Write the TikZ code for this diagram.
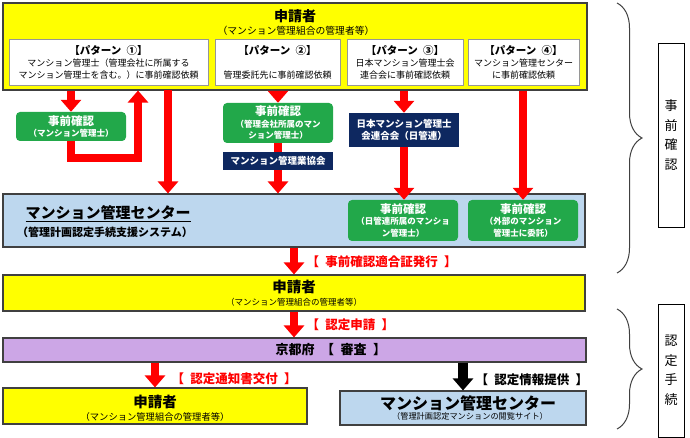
\documentclass[tikz,border=0pt]{standalone}
\usepackage{fontspec}
\setmainfont{Noto Sans CJK JP}
\usetikzlibrary{arrows.meta, decorations.pathreplacing}
\definecolor{cyellow}{HTML}{FFFF00}
\definecolor{cblue}{HTML}{BDD7EE}
\definecolor{cgreen}{HTML}{22A84A}
\definecolor{cnavy}{HTML}{0E2860}
\definecolor{cpurple}{HTML}{CCA6E6}
\definecolor{cred}{HTML}{FF0000}
\definecolor{cgrey}{HTML}{404040}
\newcommand{\halfsp}{\hspace{0.5em}}
\tikzset{
  panel/.style={draw=cgrey, fill=#1, line width=1.1pt, inner sep=0pt},
  pbox/.style={draw=cgrey!55, fill=white, line width=0.8pt, inner sep=0pt, minimum height=46pt, align=center, font=\fontsize{9}{12}\selectfont},
  prebox/.style={fill=cgreen, rounded corners=4pt, text=white, align=center, inner sep=0pt, minimum width=110pt, font=\fontsize{8.5}{11.5}\selectfont\bfseries},
  assoc/.style={fill=cnavy, text=white, align=center, inner sep=0pt, minimum width=110pt, font=\fontsize{9.5}{12}\selectfont\bfseries},
  arrow/.style={-{Triangle[width=20pt, length=12pt]}, draw=cred, line width=8pt},
  flowlabel/.style={anchor=west, text=cred, font=\fontsize{12.5}{14}\selectfont\bfseries},
  sidebox/.style={draw=black, line width=0.8pt, minimum width=26pt, inner sep=0pt, align=center, font=\fontsize{13}{19.5}\selectfont},
  bracket/.style={decorate, decoration={brace, amplitude=25pt}, draw=cgrey, line width=1pt},
}

\begin{document}
\begin{tikzpicture}[x=1pt, y=-1pt]
  \useasboundingbox (0,0) rectangle (690,438);
  % applicant and the four patterns of prior check
  \node[panel=cyellow, minimum width=584pt, minimum height=87pt] (top) at (295,46.5) {};
  \node[font=\fontsize{14}{16}\selectfont\bfseries] (topname) at (295,16) {申請者};
  \node[font=\fontsize{9.8}{11}\selectfont] (topsub) at (296,31) {（マンション管理組合の管理者等）};
  \node[pbox, minimum width=199pt] (p1) at (108.5,62) {{\bfseries\fontsize{10.5}{13}\selectfont 【パターン\halfsp ①】}\\マンション管理士（管理会社に所属する\\マンション管理士を含む。）に事前確認依頼};
  \node[pbox, minimum width=125pt] (p2) at (277.5,62) {{\bfseries\fontsize{10.5}{13}\selectfont 【パターン\halfsp ②】}\\[12pt]管理委託先に事前確認依頼};
  \node[pbox, minimum width=116pt] (p3) at (405,62) {{\bfseries\fontsize{10.5}{13}\selectfont 【パターン\halfsp ③】}\\日本マンション管理士会\\連合会に事前確認依頼};
  \node[pbox, minimum width=111pt] (p4) at (523.5,62) {{\bfseries\fontsize{10.5}{13}\selectfont 【パターン\halfsp ④】}\\マンション管理センター\\に事前確認依頼};

  % support system
  \node[panel=cblue, minimum width=582pt, minimum height=53pt] (cb) at (294,220.5) {};
  \node[font=\fontsize{15}{17}\selectfont\bfseries] (cbname) at (108,214) {\underline{マンション管理センター}};
  \node[font=\fontsize{11}{13}\selectfont\bfseries] (cbsub) at (105,232) {（管理計画認定手続支援システム）};

  \node[prebox, minimum height=29pt] (g1) at (71,126.5) {{\fontsize{11.5}{13}\selectfont 事前確認}\\（マンション管理士）};
  \node[prebox, minimum height=40pt] (g2) at (278,123) {{\fontsize{11.5}{13}\selectfont 事前確認}\\（管理会社所属のマン\\ション管理士）};
  \node[assoc, minimum height=34pt] (n3) at (404,130) {日本マンション管理士\\会連合会（日管連）};
  \node[prebox, minimum height=41pt] (g3) at (403,220.5) {{\fontsize{11.5}{13}\selectfont 事前確認}\\（日管連所属のマンショ\\ン管理士）};
  \node[prebox, minimum height=41pt] (g4) at (523,220.5) {{\fontsize{11.5}{13}\selectfont 事前確認}\\（外部のマンション\\管理士に委託）};

  \coordinate (bend1) at (71,158);
  \coordinate (bend2) at (138,158);
  \coordinate (drop1) at (168,90);
  \draw[arrow] (g1.north |- top.south) -- (g1.north);
  \draw[arrow, line join=miter] (g1.south) -- (bend1) -- (bend2) -- (bend2 |- top.south);
  \draw[arrow] (drop1) -- (drop1 |- cb.north);
  \draw[arrow] (g2.north |- top.south) -- (g2.north);
  \draw[arrow] (g2.south) -- (g2.south |- cb.north);
  \draw[arrow] (n3.north |- top.south) -- (n3.north);
  \draw[arrow] (n3.south) -- (n3.south |- g3.north);
  \draw[arrow] (g4.north |- top.south) -- (g4.north);
  \node[assoc, minimum height=18pt] (m2) at (278,161) {マンション管理業協会};

  % certification
  \node[panel=cyellow, minimum width=582pt, minimum height=36pt] (y2) at (294,293) {};
  \node[font=\fontsize{14.5}{16}\selectfont\bfseries] (y2name) at (294,287) {申請者};
  \node[font=\fontsize{8.5}{10}\selectfont] (y2sub) at (294,302) {（マンション管理組合の管理者等）};
  \node[panel=cpurple, minimum width=583pt, minimum height=24pt] (pu) at (294.5,350) {};
  \node[anchor=west, font=\fontsize{13}{15}\selectfont\bfseries] (puname) at (272,350) {京都府\halfsp【\halfsp 審査\halfsp】};
  \node[panel=cyellow, minimum width=304pt, minimum height=36pt] (y3) at (155,406) {};
  \node[font=\fontsize{14.5}{16}\selectfont\bfseries] (y3name) at (155,402) {申請者};
  \node[font=\fontsize{9.3}{11}\selectfont] (y3sub) at (155,417) {（マンション管理組合の管理者等）};
  \node[panel=cblue, minimum width=246pt, minimum height=34pt] (b3) at (463,408) {};
  \node[font=\fontsize{16}{18}\selectfont\bfseries] (b3name) at (468,403) {マンション管理センター};
  \node[font=\fontsize{8.2}{10}\selectfont] (b3sub) at (470,416) {（管理計画認定マンションの閲覧サイト）};

  \draw[arrow] (cb.south) -- (cb.south |- y2.north);
  \node[flowlabel] (l1) at (303,262) {【\halfsp 事前確認適合証発行\halfsp】};
  \draw[arrow] (y2.south) -- (y2.south |- pu.north);
  \node[flowlabel] (l2) at (303,325) {【\halfsp 認定申請\halfsp】};
  \draw[arrow] (y3.north |- pu.south) -- (y3.north);
  \node[flowlabel] (l3) at (168,379) {【\halfsp 認定通知書交付\halfsp】};
  \draw[arrow, draw=black, line width=10pt] (b3.north |- pu.south) -- (b3.north);
  \node[flowlabel, text=black] (l4) at (472,380) {【\halfsp 認定情報提供\halfsp】};

  % phase brackets
  \coordinate (br1a) at (617,3);
  \coordinate (br1b) at (617,273);
  \coordinate (br2a) at (617,309);
  \coordinate (br2b) at (617,429);
  \draw[bracket] (br1a) -- (br1b);
  \draw[bracket] (br2a) -- (br2b);
  \node[sidebox, minimum height=184pt] (s1) at (671,135) {事\\前\\確\\認};
  \node[sidebox, minimum height=133pt] (s2) at (671,370.5) {認\\定\\手\\続};
\end{tikzpicture}
\end{document}
